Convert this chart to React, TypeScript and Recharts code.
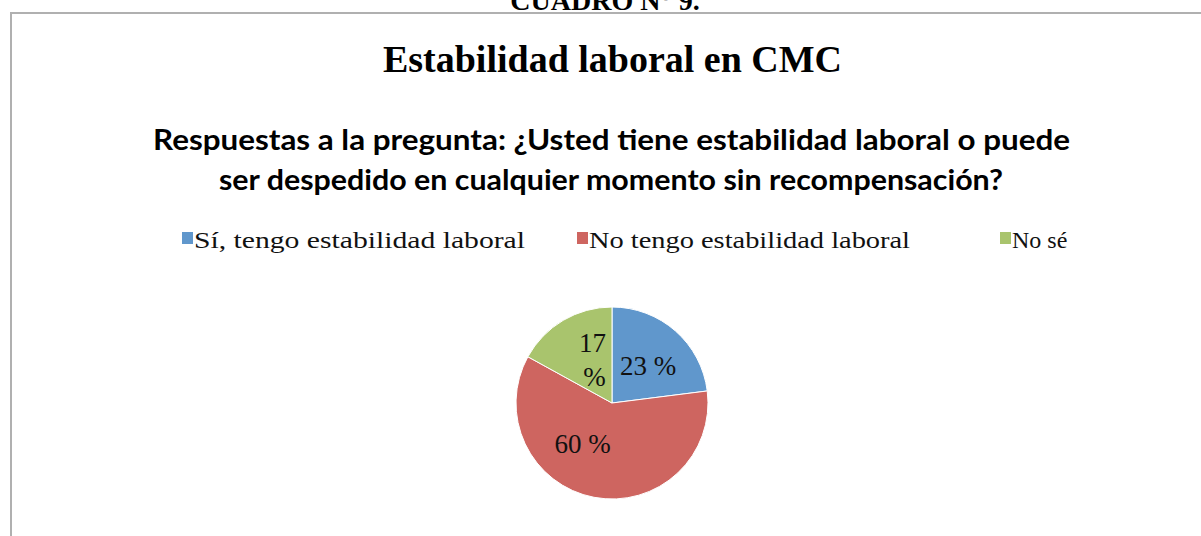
import React from 'react'
import { PieChart, Pie, Cell, Legend } from 'recharts'

const categories = ['Sí, tengo estabilidad laboral', 'No tengo estabilidad laboral', 'No sé']
const percentages = [23, 60, 17]
const sliceColors = ['#6097cc', '#ce6560', '#a9c46d']

const chartTitle = 'Estabilidad laboral en CMC'
const subtitleLines = [
  'Respuestas a la pregunta: ¿Usted tiene estabilidad laboral o puede',
  'ser despedido en cualquier momento sin recompensación?',
]
const captionAbove = 'CUADRO N° 9.'

const data = categories.map((name, i) => ({ name, value: percentages[i] }))

const W = 1201
const H = 536
const RAD = Math.PI / 180
const legendX = [182, 577, 1000]
const legendTextW = [331, 321, 0]

const renderLabel = (props: any) => {
  const { cx, cy, midAngle, outerRadius, value } = props
  const r = outerRadius * 0.52
  const x = cx + r * Math.cos(-midAngle * RAD)
  const y = cy + r * Math.sin(-midAngle * RAD)
  const style = { fontFamily: '"Liberation Serif", serif', fontSize: 27, fill: '#111' }
  if (value < 20) {
    // small slice: Excel wraps the label onto two lines
    return (
      <text x={x + 6} y={y} textAnchor="middle" style={style}>
        <tspan x={x + 6} dy={-8}>{value}</tspan>
        <tspan x={x + 8} dy={34}>%</tspan>
      </text>
    )
  }
  // the big slice's label sits up-left of its mid-angle in the original
  const shift = value > 50 ? { dx: -20, dy: -8 } : { dx: 3, dy: 0 }
  return (
    <text x={x + shift.dx} y={y + 9 + shift.dy} textAnchor="middle" style={style}>
      {`${value} %`}
    </text>
  )
}

const renderLegend = (props: any) => {
  const payload = props.payload || []
  return (
    <svg width={W} height={40} style={{ display: 'block' }}>
      {categories.map((name, i) => {
        const item = payload.find((p: any) => p.value === name)
        const fit = legendTextW[i] ? { textLength: legendTextW[i], lengthAdjust: 'spacingAndGlyphs' } : {}
        return (
          <g key={name}>
            <rect x={legendX[i]} y={10} width={11} height={12} fill={item ? item.color : sliceColors[i]} />
            <text
              x={legendX[i] + 12}
              y={26}
              {...fit}
              style={{ fontFamily: '"Liberation Serif", serif', fontSize: 24, fill: '#111' }}
            >
              {name}
            </text>
          </g>
        )
      })}
    </svg>
  )
}

export default function App() {
  return (
    <div style={{ position: 'absolute', top: 0, left: 0, width: W, height: H, background: '#fff', overflow: 'hidden' }}>
      <svg width={W} height={H} style={{ position: 'absolute', top: 0, left: 0 }}>
        <text
          x={605}
          y={10}
          textAnchor="middle"
          style={{ fontFamily: '"Liberation Serif", serif', fontWeight: 700, fontSize: 28, fill: '#000' }}
        >
          {captionAbove}
        </text>
        <rect x={11} y={13} width={W + 50} height={H + 50} fill="none" stroke="#b0b0b0" strokeWidth={2} />
        <text
          x={612.5}
          y={72}
          textAnchor="middle"
          textLength={459}
          lengthAdjust="spacingAndGlyphs"
          style={{ fontFamily: '"Liberation Serif", serif', fontWeight: 700, fontSize: 38, fill: '#000' }}
        >
          {chartTitle}
        </text>
        <text
          x={611.5}
          y={150}
          textAnchor="middle"
          textLength={917}
          lengthAdjust="spacingAndGlyphs"
          style={{ fontFamily: 'Lato, sans-serif', fontWeight: 700, fontSize: 28, fill: '#000' }}
        >
          {subtitleLines[0]}
        </text>
        <text
          x={611}
          y={190}
          textAnchor="middle"
          textLength={784}
          lengthAdjust="spacingAndGlyphs"
          style={{ fontFamily: 'Lato, sans-serif', fontWeight: 700, fontSize: 28, fill: '#000' }}
        >
          {subtitleLines[1]}
        </text>
      </svg>
      <div style={{ position: 'absolute', top: 0, left: 0 }}>
        <PieChart width={W} height={H} margin={{ top: 0, right: 0, bottom: 0, left: 0 }}>
          <Legend
            content={renderLegend}
            wrapperStyle={{ position: 'absolute', top: 222, left: 0, width: W }}
          />
          <Pie
            data={data}
            dataKey="value"
            nameKey="name"
            cx={612}
            cy={403}
            outerRadius={96}
            startAngle={90}
            endAngle={-270}
            stroke="#ffffff"
            strokeWidth={1}
            label={renderLabel}
            labelLine={false}
            isAnimationActive={false}
          >
            {data.map((d, i) => (
              <Cell key={d.name} fill={sliceColors[i]} />
            ))}
          </Pie>
        </PieChart>
      </div>
    </div>
  )
}
